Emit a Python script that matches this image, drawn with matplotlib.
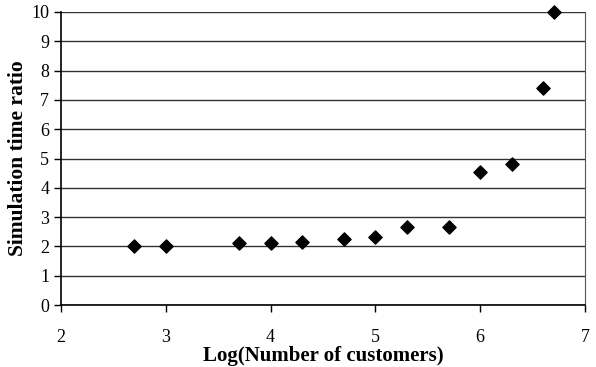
import matplotlib.pyplot as plt

plt.rcParams['font.family'] = ['Liberation Serif', 'DejaVu Serif']

log_customers = [2.7, 3.0, 3.7, 4.0, 4.3, 4.7, 5.0, 5.3, 5.7, 6.0, 6.3, 6.6, 6.7]
time_ratio = [2.02, 2.02, 2.1, 2.1, 2.16, 2.24, 2.33, 2.65, 2.65, 4.55, 4.8, 7.42, 10.0]

fig = plt.figure(figsize=(5.96, 3.67), dpi=100)
ax = fig.add_axes([61 / 596, 1 - 305 / 367, 524 / 596, 293 / 367])

ax.scatter(log_customers, time_ratio, marker='D', s=45, color='black', zorder=3, clip_on=False)

ax.set_xlim(2, 7)
ax.set_ylim(0, 10)
ax.set_xticks(range(2, 8))
ax.set_yticks(range(0, 11))
ax.yaxis.grid(True, color='#333333', linewidth=1)
ax.set_axisbelow(True)

ax.spines['top'].set_visible(False)
ax.spines['right'].set_color('#555555')
ax.spines['left'].set_linewidth(1.2)
ax.spines['bottom'].set_linewidth(1.2)
ax.tick_params(axis='both', direction='out', length=5, labelsize=13, width=1)
ax.tick_params(axis='x', pad=12)

ax.set_xlabel('Log(Number of customers)', fontsize=15, fontweight='bold', labelpad=0)
ax.set_ylabel('Simulation time ratio', fontsize=15.5, fontweight='bold', labelpad=2)

fig.savefig('out.png', dpi=100)
